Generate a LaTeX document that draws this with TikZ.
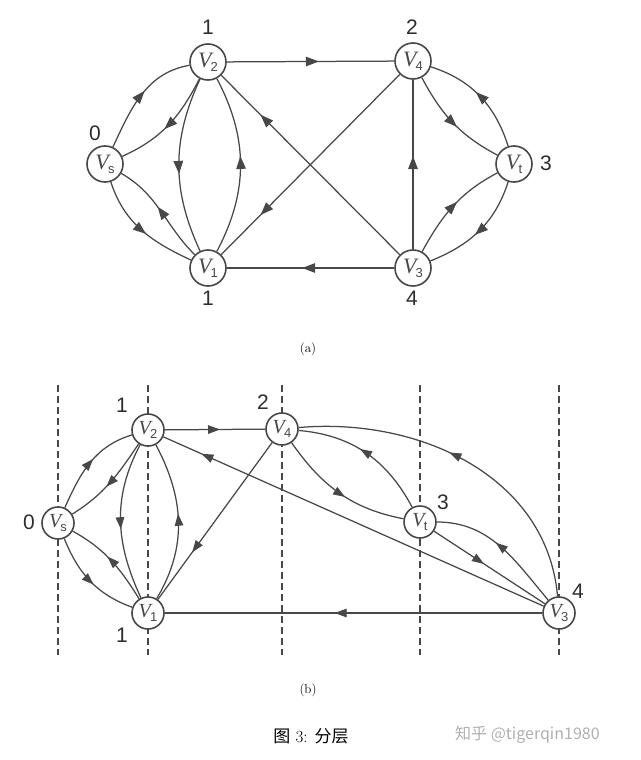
\documentclass[tikz,border=0pt]{standalone}
\usepackage{fontspec}
\newfontfamily\sansf{Liberation Sans}
\newfontfamily\seriff{Liberation Serif}
\newfontfamily\cjk{Noto Sans CJK SC}
\usetikzlibrary{arrows.meta,decorations.markings}
\definecolor{ln}{RGB}{72,72,72}
\definecolor{txt}{RGB}{45,45,45}
\definecolor{wm}{RGB}{175,175,175}
\newcommand\vlab[1]{{\seriff\itshape V}\kern-0.8pt\raisebox{-4pt}{\sansf\fontsize{13}{13}\selectfont #1}}
\begin{document}
\begin{tikzpicture}[x=1pt,y=1pt,
  vtx/.style={circle,draw=ln,line width=1.6pt,fill=white,minimum size=36pt,inner sep=0pt,text=ln,font=\fontsize{22}{22}\selectfont},
  vtxb/.style={vtx,minimum size=32pt,font=\fontsize{20}{20}\selectfont},
  edge/.style={draw=ln,line width=1.25pt},
  arr/.style={postaction={decorate},decoration={markings,mark=at position #1 with {\arrow[ln]{Triangle[length=13pt,width=9.5pt]}}}},
  arr/.default=0.55,
  arrb/.style={postaction={decorate},decoration={markings,mark=at position #1 with {\arrow[ln]{Triangle[length=12pt,width=8.5pt]}}}},
  arrb/.default=0.55,
  lvl/.style={font=\sansf\fontsize{21}{21}\selectfont,text=txt,inner sep=0pt},
  layer/.style={draw=ln,line width=1.1pt,dash pattern=on 7pt off 4pt},
  captxt/.style={font=\fontsize{13}{13}\selectfont,inner sep=0pt}]
\useasboundingbox (0,0) rectangle (640,-760);
% ---------- (a) ----------
\node[vtx] (s)  at (105,-164) {\vlab{s}};
\node[vtx] (a2) at (208,-62)  {\vlab{2}};
\node[vtx] (a1) at (208,-268) {\vlab{1}};
\node[vtx] (a4) at (413,-61)  {\vlab{4}};
\node[vtx] (at) at (514,-164) {\vlab{t}};
\node[vtx] (a3) at (413,-268) {\vlab{3}};
\node[lvl] (ls)  at (95,-133)  {0};
\node[lvl] (l2)  at (208,-27)  {1};
\node[lvl] (l1)  at (208,-298) {1};
\node[lvl] (l4)  at (412,-27)  {2};
\node[lvl] (lt)  at (546,-163) {3};
\node[lvl] (l3)  at (412,-298) {4};
\draw[edge,arr] (s) to[out=65,in=190] (a2);
\draw[edge,arr] (a2) to[out=243,in=24] (s);
\draw[edge,arr] (s) to[out=-72,in=155] (a1);
\draw[edge,arr] (a1) to[out=135,in=-30] (s);
\draw[edge,arr] (a2) to[out=245,in=115] (a1);
\draw[edge,arr] (a1) to[out=62,in=-62] (a2);
\draw[edge,arr] (a2) -- (a4);
\draw[edge,arr] (a3) -- (a1);
\draw[edge,arr] (a3) -- (a4);
\draw[edge,arr=0.78] (a4) -- (a1);
\draw[edge,arr=0.78] (a3) -- (a2);
\draw[edge,arr] (at) to[out=108,in=-18] (a4);
\draw[edge,arr] (a4) to[out=-62,in=152] (at);
\draw[edge,arr] (a3) to[out=61,in=208] (at);
\draw[edge,arr] (at) to[out=252,in=22] (a3);
\node[captxt] (capa) at (308,-349) {(a)};
% ---------- (b) ----------
\coordinate (d1t) at (58,-385);  \coordinate (d1b) at (58,-655);
\coordinate (d2t) at (148,-385); \coordinate (d2b) at (148,-655);
\coordinate (d3t) at (282,-385); \coordinate (d3b) at (282,-655);
\coordinate (d4t) at (420,-385); \coordinate (d4b) at (420,-655);
\coordinate (d5t) at (559,-385); \coordinate (d5b) at (559,-655);
\draw[layer] (d1t) -- (d1b);
\draw[layer] (d2t) -- (d2b);
\draw[layer] (d3t) -- (d3b);
\draw[layer] (d4t) -- (d4b);
\draw[layer] (d5t) -- (d5b);
\node[vtxb] (bs) at (58,-523)  {\vlab{s}};
\node[vtxb] (b2) at (148,-430) {\vlab{2}};
\node[vtxb] (b1) at (148,-613) {\vlab{1}};
\node[vtxb] (b4) at (282,-429) {\vlab{4}};
\node[vtxb] (bt) at (420,-522) {\vlab{t}};
\node[vtxb] (b3) at (559,-613) {\vlab{3}};
\node[lvl] (ms) at (29,-522)  {0};
\node[lvl] (m2) at (122,-405) {1};
\node[lvl] (m1) at (122,-635) {1};
\node[lvl] (m4) at (263,-402) {2};
\node[lvl] (mt) at (443,-502) {3};
\node[lvl] (m3) at (578,-591) {4};
\draw[edge,arrb] (bs) to[out=66,in=197] (b2);
\draw[edge,arrb] (b2) to[out=236,in=32] (bs);
\draw[edge,arrb] (bs) to[out=-68,in=160] (b1);
\draw[edge,arrb] (b1) to[out=122,in=-29] (bs);
\draw[edge,arrb] (b2) to[out=242,in=115] (b1);
\draw[edge,arrb] (b1) to[out=59,in=-62] (b2);
\draw[edge,arrb] (b2) -- (b4);
\draw[edge,arrb] (b3) -- (b1);
\draw[edge,arrb=0.70] (b4) -- (b1);
\draw[edge,arrb=0.90] (b3) -- (b2);
\draw[edge,arrb] (b4) to[out=-55,in=169] (bt);
\draw[edge,arrb] (bt) to[out=118,in=-5] (b4);
\draw[edge,arrb] (b3) to[out=95,in=5] (b4);
\draw[edge,arrb] (b3) to[out=130,in=0] (bt);
\draw[edge,arrb=0.45] (bt) -- (b3);
\node[captxt] (capb) at (308,-690) {(b)};
\node[inner sep=0pt,font=\fontsize{17}{17}\selectfont] (capm) at (311,-736) {{\cjk 图} 3: {\cjk 分层}};
\node[anchor=west,inner sep=0pt,text=wm,font=\cjk\fontsize{16}{16}\selectfont] (wmk) at (455,-735) {知乎 @tigerqin1980};
\end{tikzpicture}
\end{document}
